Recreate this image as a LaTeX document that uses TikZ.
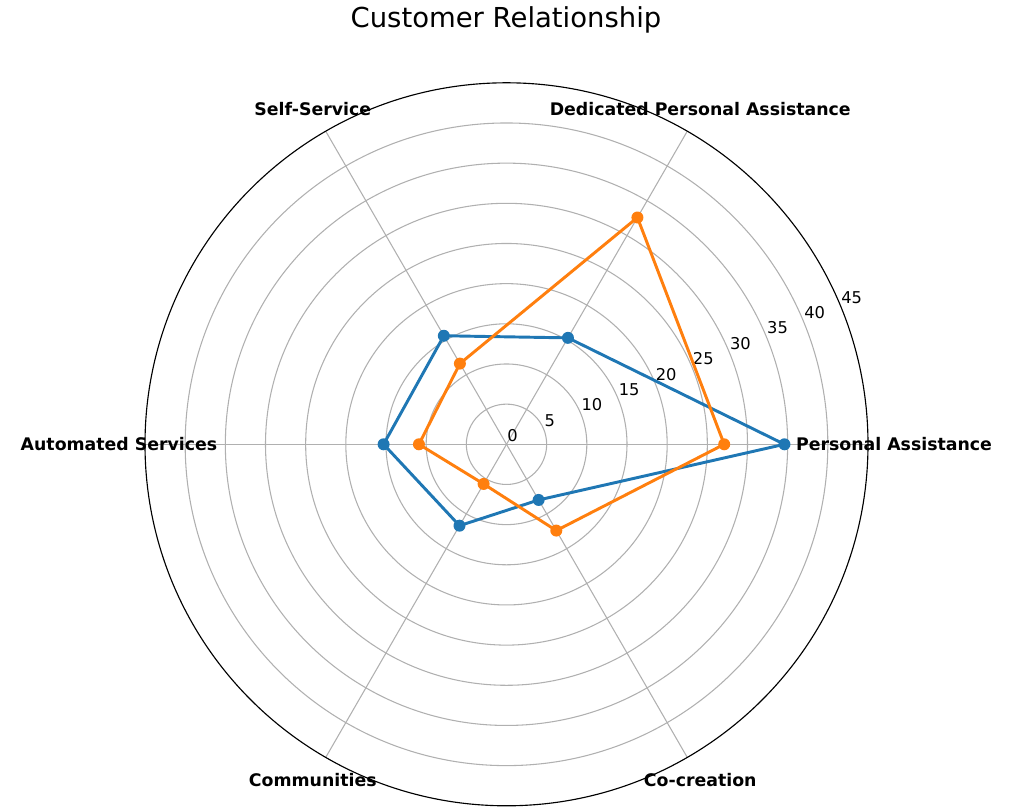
\documentclass[tikz,border=0pt]{standalone}
\usepackage{fontspec}
\setmainfont{DejaVu Sans}
\definecolor{mblue}{HTML}{1F77B4}
\definecolor{morange}{HTML}{FF7F0E}
\definecolor{gridc}{HTML}{B0B0B0}
\begin{document}
\begin{tikzpicture}[x=0.75pt,y=0.75pt,
  gridline/.style={draw=gridc, line width=0.8pt},
  spine/.style={draw=black, line width=0.85pt},
  series/.style={line width=2.2pt, line join=round, draw=#1},
  dot/.style={circle, fill=#1, draw=none, inner sep=0pt, minimum size=9pt},
  cat/.style={font=\fontsize{13}{15}\selectfont\bfseries, anchor=center, inner sep=0pt},
  rtick/.style={font=\fontsize{12.2}{14}\selectfont, anchor=base west, inner sep=0pt, xshift=0.5pt, yshift=2.1pt},
  titlestyle/.style={font=\fontsize{20.6}{24}\selectfont, anchor=base, inner sep=0pt}]
\useasboundingbox (-506.5,-364.7) rectangle (502.5,444.3);
\def\u{8.033}
% grid
\foreach \k in {1,...,8} \draw[gridline] (0,0) circle ({5*\k*\u});
\foreach \a in {0,60,...,300} \draw[gridline] (0,0) -- (\a:361.5);
\draw[spine] (0,0) circle (361.5);
% radial tick labels
\foreach \v [count=\i] in {0,5,...,45}
  \node[rtick] (t\i) at (22.5:{\v*\u}) {\v};
% blue series
\coordinate (b1) at (0:{34.6*\u});
\coordinate (b2) at (60:{15.3*\u});
\coordinate (b3) at (120:{15.6*\u});
\coordinate (b4) at (180:{15.3*\u});
\coordinate (b5) at (240:{11.7*\u});
\coordinate (b6) at (300:{8.0*\u});
\draw[series=mblue] (b1) -- (b2) -- (b3) -- (b4) -- (b5) -- (b6) -- cycle;
\foreach \n in {b1,b2,b3,b4,b5,b6} \node[dot=mblue] (d\n) at (\n) {};
% orange series
\coordinate (o1) at (0:{27.1*\u});
\coordinate (o2) at (60:{32.6*\u});
\coordinate (o3) at (120:{11.6*\u});
\coordinate (o4) at (180:{10.9*\u});
\coordinate (o5) at (240:{5.7*\u});
\coordinate (o6) at (300:{12.4*\u});
\draw[series=morange] (o1) -- (o2) -- (o3) -- (o4) -- (o5) -- (o6) -- cycle;
\foreach \n in {o1,o2,o3,o4,o5,o6} \node[dot=morange] (d\n) at (\n) {};
% category labels
\node[cat] (c1) at (0:387.5) {Personal Assistance};
\node[cat] (c2) at (60:387.5) {Dedicated Personal Assistance};
\node[cat] (c3) at (120:387.5) {Self-Service};
\node[cat] (c4) at (180:387.5) {Automated Services};
\node[cat] (c5) at (240:387.5) {Communities};
\node[cat] (c6) at (300:387.5) {Co-creation};
% title
\node[titlestyle] (title) at (-0.5,416.3) {Customer Relationship};
\end{tikzpicture}
\end{document}
